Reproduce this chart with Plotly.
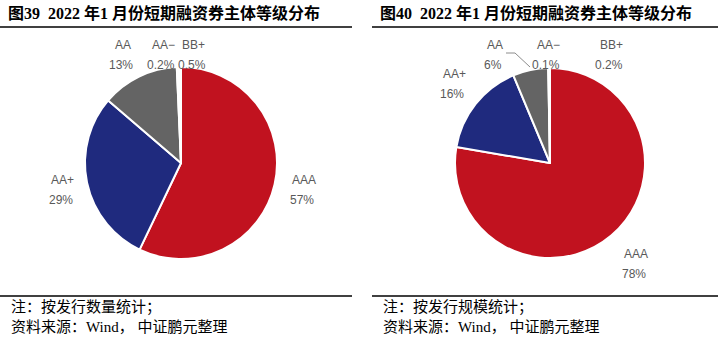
import plotly.graph_objects as go

W, H = 718, 341

# ---- data ----
grades = ["AAA", "AA+", "AA", "AA-", "BB+"]
count_share = [57.1, 29.2, 13.0, 0.2, 0.5]      # 图39 按发行数量
scale_share = [77.7, 16.0, 6.0, 0.1, 0.2]       # 图40 按发行规模
count_text = ["57%", "29%", "13%", "0.2%", "0.5%"]
scale_text = ["78%", "16%", "6%", "0.1%", "0.2%"]
title_left = "图39  2022 年1 月份短期融资券主体等级分布"
title_right = "图40  2022 年1 月份短期融资券主体等级分布"
note_left = "注：按发行数量统计；"
note_right = "注：按发行规模统计；"
source = "资料来源：Wind， 中证鹏元整理"

colors = ["#C1121F", "#1F2A7E", "#646464", "#FFFFFF", "#FFFFFF"]


def px(x):
    return x / W


def py(y):
    return 1 - y / H


fig = go.Figure()

# pies: (center x, center y, radius) in pixels
pie_geom = [(181, 163, 96), (550, 163, 95)]
for vals, (cx, cy, r) in zip([count_share, scale_share], pie_geom):
    fig.add_trace(go.Pie(
        labels=grades, values=vals, sort=False, direction="clockwise",
        rotation=0, textinfo="none", hoverinfo="label+percent",
        marker=dict(colors=colors, line=dict(color="white", width=2)),
        domain=dict(x=[px(cx - r), px(cx + r)], y=[py(cy + r), py(cy - r)]),
        showlegend=False,
    ))

label_font = dict(family="Liberation Sans, Noto Sans CJK SC", size=12, color="#595959")
# label positions (pixel centres of name line) for each pie
pos_left = [(304, 180), (63, 180), (123, 45), (163, 45), (194, 45)]
pos_right = [(636, 254), (454, 74), (495, 45), (548, 45), (611, 45)]

annotations = []
for texts, pos in [(count_text, pos_left), (scale_text, pos_right)]:
    for name, t, (x, y) in zip(grades, texts, pos):
        annotations.append(dict(
            x=px(x), y=py(y), xref="paper", yref="paper", showarrow=False,
            text=name.replace("-", "−"), font=label_font, xanchor="center", yanchor="middle"))
        annotations.append(dict(
            x=px(x - 2), y=py(y + 20), xref="paper", yref="paper", showarrow=False,
            text=t, font=label_font, xanchor="center", yanchor="middle"))

title_font = dict(family="Liberation Serif, Noto Sans CJK SC", size=16, color="#000000")
note_font = dict(family="Liberation Serif, Noto Sans CJK SC", size=15, color="#000000")
for tx, title, note, in [(6, title_left, note_left), (378, title_right, note_right)]:
    annotations.append(dict(x=px(tx), y=py(13), xref="paper", yref="paper", showarrow=False,
                            text="<b>" + title + "</b>", font=title_font,
                            xanchor="left", yanchor="middle"))
    annotations.append(dict(x=px(tx + 3), y=py(307), xref="paper", yref="paper", showarrow=False,
                            text=note, font=note_font, xanchor="left", yanchor="middle"))
    annotations.append(dict(x=px(tx + 3), y=py(327), xref="paper", yref="paper", showarrow=False,
                            text=source, font=note_font, xanchor="left", yanchor="middle"))

shapes = []
for x0, x1 in [(0, 352), (372, 718)]:
    for y in (27, 296):
        shapes.append(dict(type="line", xref="paper", yref="paper",
                           x0=px(x0), x1=px(x1), y0=py(y), y1=py(y),
                           line=dict(color="#000000", width=1.3)))
# leader line for AA label in right chart
shapes.append(dict(type="path", xref="paper", yref="paper",
                   path=f"M {px(506)} {py(53)} L {px(515)} {py(53)} L {px(530)} {py(67)}",
                   line=dict(color="#8C8C8C", width=1)))

fig.update_layout(
    width=W, height=H, margin=dict(l=0, r=0, t=0, b=0),
    paper_bgcolor="white", plot_bgcolor="white",
    annotations=annotations, shapes=shapes,
)

fig.write_html("out.html")
